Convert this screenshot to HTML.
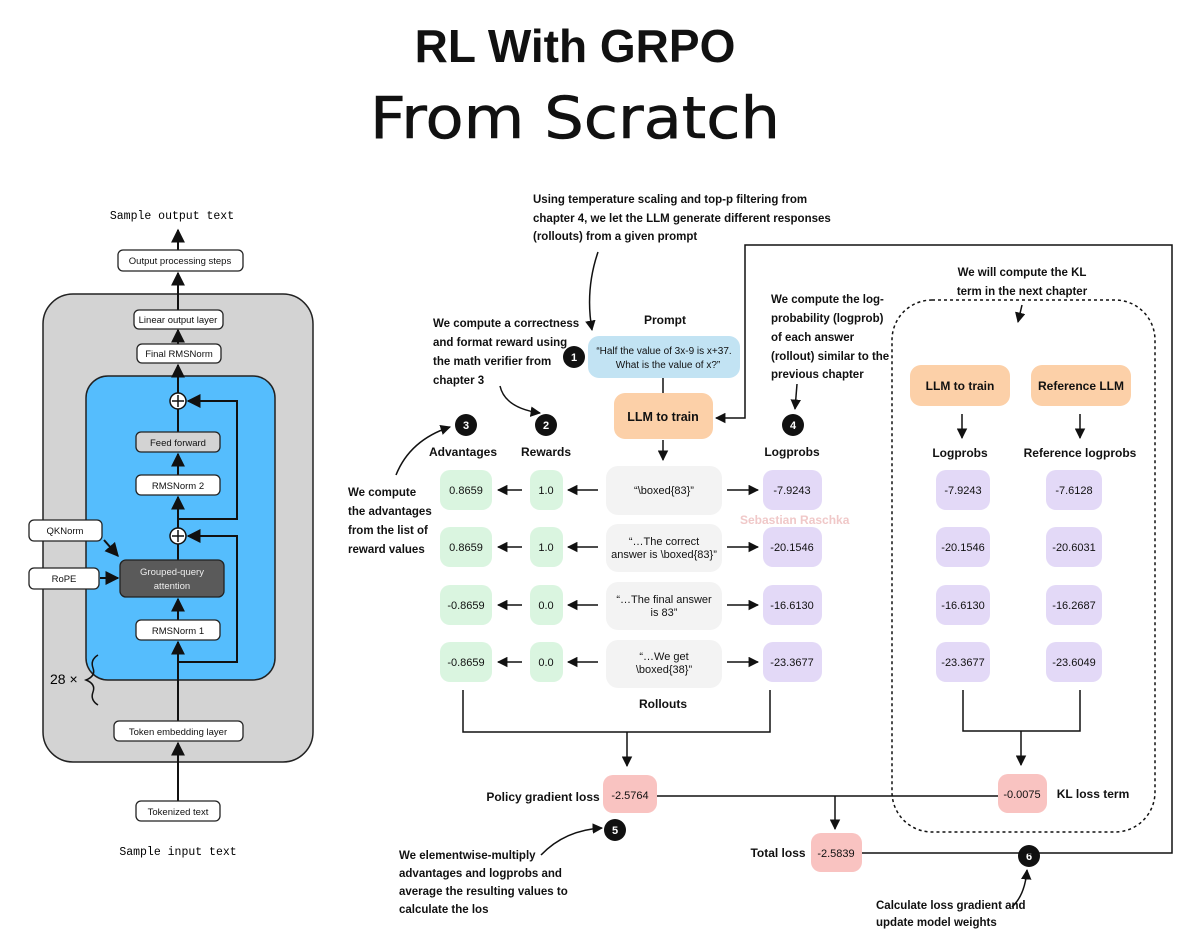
<!DOCTYPE html>
<html><head><meta charset="utf-8"><style>
body{margin:0;background:#fff}
svg{display:block}
text{font-family:"Liberation Sans",sans-serif}
.a{font-family:"Liberation Sans Narrow","Liberation Sans",sans-serif;font-weight:bold;font-size:11.5px;fill:#111}
.b{font-size:9.5px;text-anchor:middle;fill:#111}
.h{font-weight:bold;font-size:12px;text-anchor:middle;fill:#111}
.v{font-size:11px;text-anchor:middle;fill:#111}
.n{font-weight:bold;font-size:11px;text-anchor:middle;fill:#fff}
</style></head><body>
<svg width="1200" height="948" viewBox="0 0 1200 948" xmlns="http://www.w3.org/2000/svg">
<defs>
<marker id="ar" viewBox="0 0 10 10" refX="9" refY="5" markerWidth="7" markerHeight="7" orient="auto"><path d="M0,0 L10,5 L0,10 z" fill="#111"/></marker>
</defs>
<text x="575" y="62" text-anchor="middle" style="font-weight:bold;font-size:46px" fill="#111">RL With GRPO</text>
<text x="575" y="138" text-anchor="middle" textLength="410" lengthAdjust="spacingAndGlyphs" style="font-size:58px;font-family:'DejaVu Sans',sans-serif;font-weight:normal" fill="#111" stroke="#111" stroke-width="0.6">From Scratch</text>

<!-- LEFT -->
<rect x="43" y="294" width="270" height="468" rx="30" fill="#d3d3d3" stroke="#222" stroke-width="1.5"/>
<rect x="86" y="376" width="189" height="304" rx="22" fill="#55bdfd" stroke="#222" stroke-width="1.5"/>
<g stroke="#111" stroke-width="2" fill="none">
<line x1="178" y1="801" x2="178" y2="743" marker-end="url(#ar)"/>
<line x1="178" y1="721" x2="178" y2="642" marker-end="url(#ar)"/>
<line x1="178" y1="620" x2="178" y2="599" marker-end="url(#ar)"/>
<line x1="178" y1="560" x2="178" y2="544"/>
<line x1="178" y1="528" x2="178" y2="497" marker-end="url(#ar)"/>
<line x1="178" y1="475" x2="178" y2="454" marker-end="url(#ar)"/>
<line x1="178" y1="432" x2="178" y2="409"/>
<line x1="178" y1="393" x2="178" y2="365" marker-end="url(#ar)"/>
<line x1="178" y1="344" x2="178" y2="330" marker-end="url(#ar)"/>
<line x1="178" y1="310" x2="178" y2="273" marker-end="url(#ar)"/>
<line x1="178" y1="250" x2="178" y2="230" marker-end="url(#ar)"/>
<polyline points="178,662 237,662 237,536 188,536" marker-end="url(#ar)"/>
<polyline points="178,519 237,519 237,401 188,401" marker-end="url(#ar)"/>
<line x1="104" y1="540" x2="118" y2="556" marker-end="url(#ar)"/>
<line x1="100" y1="578" x2="118" y2="578" marker-end="url(#ar)"/>
</g>
<g stroke="#111" stroke-width="1.5">
<circle cx="178" cy="401" r="8" fill="#fff"/><line x1="172" y1="401" x2="184" y2="401"/><line x1="178" y1="395" x2="178" y2="407"/>
<circle cx="178" cy="536" r="8" fill="#fff"/><line x1="172" y1="536" x2="184" y2="536"/><line x1="178" y1="530" x2="178" y2="542"/>
</g>
<g stroke="#222" stroke-width="1.3">
<rect x="118" y="250" width="125" height="21" rx="5" fill="#fff"/>
<rect x="134" y="310" width="89" height="19" rx="5" fill="#fff"/>
<rect x="137" y="344" width="84" height="19" rx="5" fill="#fff"/>
<rect x="136" y="432" width="84" height="20" rx="5" fill="#d3d3d3"/>
<rect x="136" y="475" width="84" height="20" rx="5" fill="#fff"/>
<rect x="29" y="520" width="73" height="21" rx="5" fill="#fff"/>
<rect x="29" y="568" width="70" height="21" rx="5" fill="#fff"/>
<rect x="120" y="560" width="104" height="37" rx="6" fill="#5a5a5a"/>
<rect x="136" y="620" width="84" height="20" rx="5" fill="#fff"/>
<rect x="114" y="721" width="129" height="20" rx="5" fill="#fff"/>
<rect x="136" y="801" width="84" height="20" rx="5" fill="#fff"/>
</g>
<text class="b" x="180" y="264">Output processing steps</text>
<text class="b" x="178" y="323">Linear output layer</text>
<text class="b" x="179" y="357">Final RMSNorm</text>
<text class="b" x="178" y="446">Feed forward</text>
<text class="b" x="178" y="489">RMSNorm 2</text>
<text class="b" x="65" y="534">QKNorm</text>
<text class="b" x="64" y="582">RoPE</text>
<text class="b" x="172" y="575" style="fill:#eee">Grouped-query</text>
<text class="b" x="172" y="589" style="fill:#eee">attention</text>
<text class="b" x="178" y="634">RMSNorm 1</text>
<text class="b" x="178" y="735">Token embedding layer</text>
<text class="b" x="178" y="815">Tokenized text</text>
<text x="172" y="219" text-anchor="middle" style="font-family:'Liberation Mono',monospace;font-size:11.5px">Sample output text</text>
<text x="178" y="855" text-anchor="middle" style="font-family:'Liberation Mono',monospace;font-size:11.5px">Sample input text</text>
<text x="50" y="684" style="font-size:14px">28 ×</text>
<path d="M98,655 Q90,660 93,668 Q96,676 86,680 Q96,684 93,692 Q90,700 98,705" fill="none" stroke="#111" stroke-width="1.5"/>

<!-- MIDDLE -->
<text class="a" x="533" y="203">Using temperature scaling and top-p filtering from</text>
<text class="a" x="533" y="222">chapter 4, we let the LLM generate different responses</text>
<text class="a" x="533" y="240">(rollouts) from a given prompt</text>
<path d="M598,252 Q585,290 592,330" fill="none" stroke="#111" stroke-width="1.5" marker-end="url(#ar)"/>
<text class="a" x="433" y="327">We compute a correctness</text>
<text class="a" x="433" y="346">and format reward using</text>
<text class="a" x="433" y="365">the math verifier from</text>
<text class="a" x="433" y="384">chapter 3</text>
<path d="M500,386 Q505,408 540,413" fill="none" stroke="#111" stroke-width="1.5" marker-end="url(#ar)"/>
<text class="a" x="348" y="496">We compute</text>
<text class="a" x="348" y="515">the advantages</text>
<text class="a" x="348" y="534">from the list of</text>
<text class="a" x="348" y="553">reward values</text>
<path d="M396,475 Q410,440 450,427" fill="none" stroke="#111" stroke-width="1.5" marker-end="url(#ar)"/>
<text class="a" x="771" y="303">We compute the log-</text>
<text class="a" x="771" y="322">probability (logprob)</text>
<text class="a" x="771" y="341">of each answer</text>
<text class="a" x="771" y="360">(rollout) similar to the</text>
<text class="a" x="771" y="378">previous chapter</text>
<path d="M797,384 L795,409" fill="none" stroke="#111" stroke-width="1.5" marker-end="url(#ar)"/>

<text class="h" x="665" y="324">Prompt</text>
<rect x="588" y="336" width="152" height="42" rx="11" fill="#c2e3f3"/>
<text class="b" x="664" y="354" style="font-size:10px">“Half the value of 3x-9 is x+37.</text>
<text class="b" x="668" y="368" style="font-size:10px">What is the value of x?”</text>
<line x1="663" y1="378" x2="663" y2="393" stroke="#111" stroke-width="1.5"/>
<rect x="614" y="393" width="99" height="46" rx="11" fill="#fcd0a8"/>
<text class="h" x="663" y="421" style="font-size:12.5px">LLM to train</text>
<line x1="663" y1="440" x2="663" y2="460" stroke="#111" stroke-width="1.5" marker-end="url(#ar)"/>

<g fill="#111"><circle cx="574" cy="357" r="11"/><circle cx="546" cy="425" r="11"/><circle cx="466" cy="425" r="11"/><circle cx="793" cy="425" r="11"/><circle cx="615" cy="830" r="11"/><circle cx="1029" cy="856" r="11"/></g>
<text class="n" x="574" y="361">1</text><text class="n" x="546" y="429">2</text><text class="n" x="466" y="429">3</text><text class="n" x="793" y="429">4</text><text class="n" x="615" y="834">5</text><text class="n" x="1029" y="860">6</text>

<text class="h" x="463" y="456">Advantages</text>
<text class="h" x="546" y="456">Rewards</text>
<text class="h" x="792" y="456">Logprobs</text>

<g>
<rect x="440" y="470" width="52" height="40" rx="10" fill="#daf5e0"/>
<rect x="530" y="470" width="33" height="40" rx="10" fill="#daf5e0"/>
<rect x="606" y="466" width="116" height="49" rx="12" fill="#f3f3f3"/>
<rect x="763" y="470" width="59" height="40" rx="10" fill="#e3d9f7"/>
<rect x="440" y="527" width="52" height="40" rx="10" fill="#daf5e0"/>
<rect x="530" y="527" width="33" height="40" rx="10" fill="#daf5e0"/>
<rect x="606" y="524" width="116" height="48" rx="12" fill="#f3f3f3"/>
<rect x="763" y="527" width="59" height="40" rx="10" fill="#e3d9f7"/>
<rect x="440" y="585" width="52" height="40" rx="10" fill="#daf5e0"/>
<rect x="530" y="585" width="33" height="40" rx="10" fill="#daf5e0"/>
<rect x="606" y="582" width="116" height="48" rx="12" fill="#f3f3f3"/>
<rect x="763" y="585" width="59" height="40" rx="10" fill="#e3d9f7"/>
<rect x="440" y="642" width="52" height="40" rx="10" fill="#daf5e0"/>
<rect x="530" y="642" width="33" height="40" rx="10" fill="#daf5e0"/>
<rect x="606" y="640" width="116" height="48" rx="12" fill="#f3f3f3"/>
<rect x="763" y="642" width="59" height="40" rx="10" fill="#e3d9f7"/>
</g>
<text x="740" y="524" style="font-size:12px;font-weight:bold;fill:#f0c8c8">Sebastian Raschka</text>
<g stroke="#111" stroke-width="1.5" fill="none">
<line x1="522" y1="490" x2="498" y2="490" marker-end="url(#ar)"/><line x1="598" y1="490" x2="568" y2="490" marker-end="url(#ar)"/><line x1="727" y1="490" x2="758" y2="490" marker-end="url(#ar)"/>
<line x1="522" y1="547" x2="498" y2="547" marker-end="url(#ar)"/><line x1="598" y1="547" x2="568" y2="547" marker-end="url(#ar)"/><line x1="727" y1="547" x2="758" y2="547" marker-end="url(#ar)"/>
<line x1="522" y1="605" x2="498" y2="605" marker-end="url(#ar)"/><line x1="598" y1="605" x2="568" y2="605" marker-end="url(#ar)"/><line x1="727" y1="605" x2="758" y2="605" marker-end="url(#ar)"/>
<line x1="522" y1="662" x2="498" y2="662" marker-end="url(#ar)"/><line x1="598" y1="662" x2="568" y2="662" marker-end="url(#ar)"/><line x1="727" y1="662" x2="758" y2="662" marker-end="url(#ar)"/>
</g>
<g class="v">
<text class="v" x="466" y="494">0.8659</text><text class="v" x="546" y="494">1.0</text><text class="v" x="664" y="494">“\boxed{83}”</text><text class="v" x="792" y="494">-7.9243</text>
<text class="v" x="466" y="551">0.8659</text><text class="v" x="546" y="551">1.0</text><text class="v" x="664" y="545">“…The correct</text><text class="v" x="664" y="558">answer is \boxed{83}”</text><text class="v" x="792" y="551">-20.1546</text>
<text class="v" x="466" y="609">-0.8659</text><text class="v" x="546" y="609">0.0</text><text class="v" x="664" y="603">“…The final answer</text><text class="v" x="664" y="616">is 83”</text><text class="v" x="792" y="609">-16.6130</text>
<text class="v" x="466" y="666">-0.8659</text><text class="v" x="546" y="666">0.0</text><text class="v" x="664" y="660">“…We get</text><text class="v" x="664" y="673">\boxed{38}”</text><text class="v" x="792" y="666">-23.3677</text>
</g>
<text class="h" x="663" y="708">Rollouts</text>
<g stroke="#111" stroke-width="1.5" fill="none">
<polyline points="463,690 463,732 770,732 770,690"/>
<line x1="627" y1="732" x2="627" y2="766" marker-end="url(#ar)"/>
<line x1="657" y1="796" x2="998" y2="796"/>
<line x1="835" y1="796" x2="835" y2="829" marker-end="url(#ar)"/>
<polyline points="862,853 1172,853 1172,245 745,245 745,418 716,418" marker-end="url(#ar)"/>
<path d="M541,855 Q565,830 602,828" marker-end="url(#ar)"/>
<path d="M1012,907 Q1025,895 1027,870" marker-end="url(#ar)"/>
</g>
<rect x="603" y="775" width="54" height="38" rx="10" fill="#f9c3c1"/>
<text class="v" x="630" y="799">-2.5764</text>
<text class="h" x="543" y="801">Policy gradient loss</text>
<rect x="811" y="833" width="51" height="39" rx="10" fill="#f9c3c1"/>
<text class="v" x="836" y="857">-2.5839</text>
<text class="h" x="778" y="857">Total loss</text>
<text class="a" x="399" y="859">We elementwise-multiply</text>
<text class="a" x="399" y="877">advantages and logprobs and</text>
<text class="a" x="399" y="895">average the resulting values to</text>
<text class="a" x="399" y="913">calculate the los</text>
<text class="a" x="876" y="909">Calculate loss gradient and</text>
<text class="a" x="876" y="926">update model weights</text>

<!-- RIGHT -->
<rect x="892" y="300" width="263" height="532" rx="40" fill="none" stroke="#111" stroke-width="1.5" stroke-dasharray="3,3"/>
<text class="a" x="1022" y="276" text-anchor="middle">We will compute the KL</text>
<text class="a" x="1022" y="295" text-anchor="middle">term in the next chapter</text>
<path d="M1022,305 L1018,322" fill="none" stroke="#111" stroke-width="1.5" marker-end="url(#ar)"/>
<rect x="910" y="365" width="100" height="41" rx="11" fill="#fcd0a8"/>
<rect x="1031" y="365" width="100" height="41" rx="11" fill="#fcd0a8"/>
<text class="h" x="960" y="390">LLM to train</text>
<text class="h" x="1081" y="390">Reference LLM</text>
<g stroke="#111" stroke-width="1.5" fill="none">
<line x1="962" y1="414" x2="962" y2="438" marker-end="url(#ar)"/>
<line x1="1080" y1="414" x2="1080" y2="438" marker-end="url(#ar)"/>
<polyline points="963,690 963,731 1080,731 1080,690"/>
<line x1="1021" y1="731" x2="1021" y2="765" marker-end="url(#ar)"/>
</g>
<text class="h" x="960" y="457">Logprobs</text>
<text class="h" x="1080" y="457">Reference logprobs</text>
<g fill="#e3d9f7">
<rect x="936" y="470" width="54" height="40" rx="10"/><rect x="1046" y="470" width="56" height="40" rx="10"/>
<rect x="936" y="527" width="54" height="40" rx="10"/><rect x="1046" y="527" width="56" height="40" rx="10"/>
<rect x="936" y="585" width="54" height="40" rx="10"/><rect x="1046" y="585" width="56" height="40" rx="10"/>
<rect x="936" y="642" width="54" height="40" rx="10"/><rect x="1046" y="642" width="56" height="40" rx="10"/>
</g>
<text class="v" x="963" y="494">-7.9243</text><text class="v" x="1074" y="494">-7.6128</text>
<text class="v" x="963" y="551">-20.1546</text><text class="v" x="1074" y="551">-20.6031</text>
<text class="v" x="963" y="609">-16.6130</text><text class="v" x="1074" y="609">-16.2687</text>
<text class="v" x="963" y="666">-23.3677</text><text class="v" x="1074" y="666">-23.6049</text>
<rect x="998" y="774" width="49" height="39" rx="10" fill="#f9c3c1"/>
<text class="v" x="1022" y="798">-0.0075</text>
<text class="h" x="1093" y="798">KL loss term</text>
</svg>
</body></html>
